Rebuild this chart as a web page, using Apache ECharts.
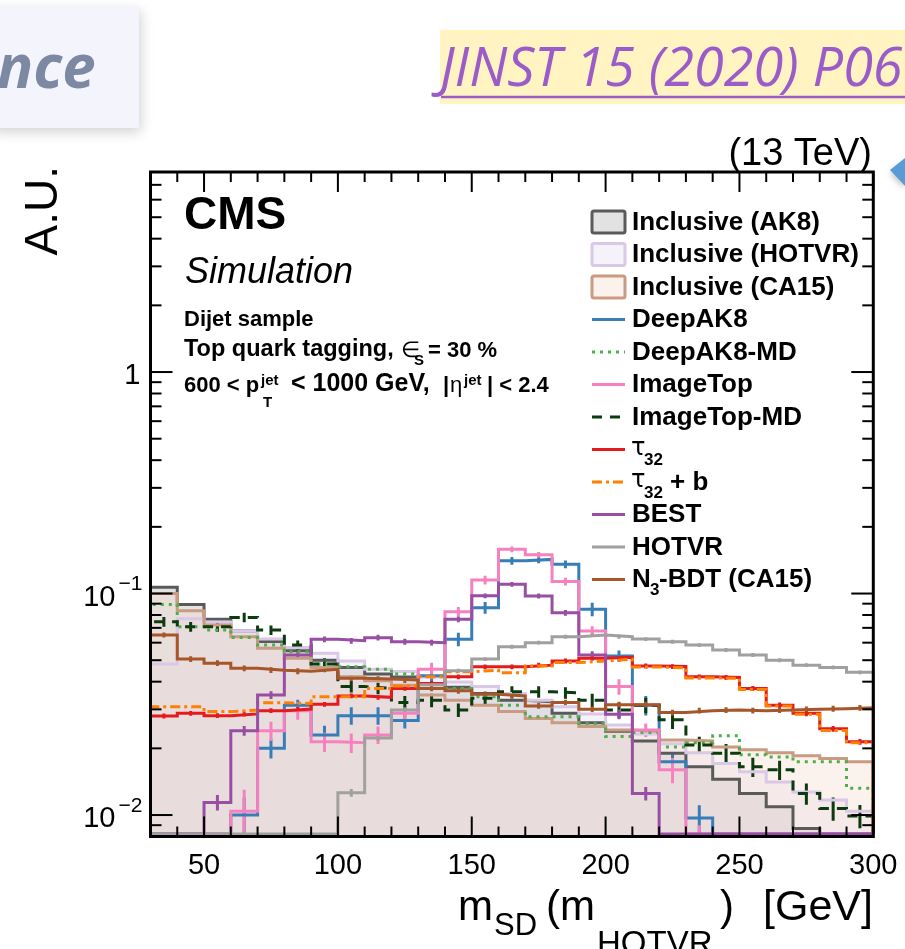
<!DOCTYPE html>
<html>
<head>
<meta charset="utf-8">
<title>Soft-drop mass of tagged dijet jets</title>
<script src="https://cdn.jsdelivr.net/npm/echarts@6/dist/echarts.min.js"></script>
<style>
  html, body { margin: 0; padding: 0; background: #ffffff; }
  #chart { width: 905px; height: 949px; }
</style>
</head>
<body>
<div id="chart"></div>
<script>
// ---------------------------------------------------------------------------
// Binning: 10 GeV bins from 30 to 300 GeV (lower edges)
// ---------------------------------------------------------------------------
const binLow = [30, 40, 50, 60, 70, 80, 90, 100, 110, 120, 130, 140, 150, 160,
                170, 180, 190, 200, 210, 220, 230, 240, 250, 260, 270, 280, 290];
const BIN_WIDTH = 10;

// Normalised yields per bin (A.U.)
const inclusiveAK8   = [0.1067, 0.0893, 0.0765, 0.0679, 0.0608, 0.0552, 0.0500, 0.0464, 0.0433, 0.0420,
                        0.0390, 0.0377, 0.0354, 0.0330, 0.0325, 0.0288, 0.0261, 0.0239, 0.0216, 0.0190,
                        0.0165, 0.0145, 0.0125, 0.0109, 0.0087, 0, 0];
const inclusiveHOTVR = [0.0481, 0.0770, 0.0744, 0.0679, 0.0623, 0.0571, 0.0537, 0.0496, 0.0455, 0.0445,
                        0.0420, 0.0399, 0.0380, 0.0354, 0.0330, 0.0308, 0.0286, 0.0255, 0.0232, 0.0210,
                        0.0191, 0.0171, 0.0157, 0.0141, 0.0127, 0.0117, 0.0104];
const inclusiveCA15  = [0.1000, 0.0836, 0.0721, 0.0638, 0.0566, 0.0510, 0.0464, 0.0421, 0.0404, 0.0385,
                        0.0348, 0.0330, 0.0313, 0.0293, 0.0273, 0.0261, 0.0251, 0.0242, 0.0238, 0.0218,
                        0.0216, 0.0203, 0.0197, 0.0191, 0.0185, 0.0180, 0.0174];
const deepAK8        = [0, 0, 0, 0.0100, 0.0200, 0.0313, 0.0230, 0.0281, 0.0281, 0.0267,
                        0.0425, 0.0621, 0.0863, 0.1406, 0.1426, 0.1355, 0.0849, 0.0522, 0.0313, 0.0174,
                        0.0097, 0, 0, 0, 0, 0, 0];
const deepAK8MD      = [0.0893, 0.0708, 0.0684, 0.0633, 0.0585, 0.0546, 0.0481, 0.0467, 0.0455, 0.0433,
                        0.0373, 0.0373, 0.0342, 0.0313, 0.0278, 0.0278, 0.0259, 0.0226, 0.0236, 0.0203,
                        0.0212, 0.0228, 0.0187, 0.0183, 0.0174, 0.0174, 0.0132];
const imageTop       = [0, 0, 0, 0.0104, 0.0240, 0.0296, 0.0214, 0.0212, 0.0230, 0.0288,
                        0.0455, 0.0828, 0.1151, 0.1583, 0.1496, 0.1133, 0.0677, 0.0380, 0.0242, 0.0160,
                        0.0075, 0, 0, 0, 0, 0, 0];
const imageTopMD     = [0.0746, 0.0708, 0.0708, 0.0780, 0.0684, 0.0585, 0.0481, 0.0380, 0.0373, 0.0322,
                        0.0330, 0.0298, 0.0337, 0.0360, 0.0360, 0.0356, 0.0330, 0.0298, 0.0313, 0.0269,
                        0.0207, 0.0190, 0.0165, 0.0160, 0.0125, 0.0107, 0.0099];
const tau32          = [0.0280, 0.0288, 0.0281, 0.0286, 0.0296, 0.0301, 0.0316, 0.0345, 0.0340, 0.0373,
                        0.0393, 0.0421, 0.0467, 0.0467, 0.0475, 0.0496, 0.0510, 0.0515, 0.0471, 0.0468,
                        0.0421, 0.0418, 0.0373, 0.0313, 0.0288, 0.0245, 0.0214];
const tau32b         = [0.0308, 0.0308, 0.0293, 0.0298, 0.0321, 0.0319, 0.0342, 0.0342, 0.0373, 0.0382,
                        0.0421, 0.0443, 0.0451, 0.0439, 0.0471, 0.0488, 0.0496, 0.0505, 0.0466, 0.0462,
                        0.0416, 0.0414, 0.0369, 0.0311, 0.0285, 0.0241, 0.0212];
const best           = [0, 0, 0.0114, 0.0240, 0.0348, 0.0528, 0.0621, 0.0612, 0.0632, 0.0606,
                        0.0600, 0.0765, 0.0977, 0.1100, 0.0975, 0.0819, 0.0528, 0.0285, 0.0125, 0,
                        0, 0, 0, 0, 0, 0, 0];
const hotvr          = [0, 0, 0, 0, 0, 0, 0, 0.0126, 0.0223, 0.0298,
                        0.0387, 0.0448, 0.0506, 0.0575, 0.0600, 0.0638, 0.0650, 0.0638, 0.0623, 0.0606,
                        0.0585, 0.0556, 0.0528, 0.0500, 0.0475, 0.0464, 0.0441];
const n3bdt          = [0.0650, 0.0506, 0.0485, 0.0460, 0.0451, 0.0446, 0.0455, 0.0414, 0.0411, 0.0407,
                        0.0373, 0.0364, 0.0351, 0.0345, 0.0311, 0.0322, 0.0300, 0.0315, 0.0315, 0.0290,
                        0.0296, 0.0298, 0.0296, 0.0298, 0.0300, 0.0302, 0.0305];

// Relative statistical uncertainties per bin
const errDeepAK8    = [0, 0, 0, 0.20, 0.10, 0.06, 0.10, 0.09, 0.09, 0.08, 0.07, 0.07, 0.06, 0.04, 0.04,
                       0.04, 0.07, 0.06, 0.10, 0.09, 0.14, 0, 0, 0, 0, 0, 0];
const errImageTop   = [0, 0, 0, 0.25, 0.10, 0.09, 0.10, 0.10, 0.09, 0.07, 0.07, 0.05, 0.045, 0.03, 0.03,
                       0.04, 0.05, 0.08, 0.07, 0.13, 0.20, 0, 0, 0, 0, 0, 0];
const errImageTopMD = [0.05, 0.05, 0.05, 0.05, 0.05, 0.05, 0.06, 0.06, 0.06, 0.07, 0.07, 0.07, 0.06, 0.06,
                       0.06, 0.06, 0.07, 0.08, 0.08, 0.09, 0.09, 0.10, 0.10, 0.10, 0.11, 0.12, 0.12];
const errTau32      = [0.025, 0.025, 0.025, 0.025, 0.025, 0.025, 0.025, 0.025, 0.025, 0.025, 0.025, 0.025,
                       0.025, 0.025, 0.025, 0.025, 0.025, 0.025, 0.025, 0.025, 0.025, 0.025, 0.025, 0.03,
                       0.03, 0.03, 0.03];
const errBEST       = [0, 0, 0.08, 0.05, 0.04, 0.03, 0.03, 0.03, 0.03, 0.03, 0.03, 0.03, 0.025, 0.025,
                       0.025, 0.03, 0.04, 0.05, 0.07, 0, 0, 0, 0, 0, 0, 0, 0];
const errHOTVR      = [0, 0, 0, 0, 0, 0, 0, 0.04, 0.03, 0.03, 0.025, 0.02, 0.02, 0.02, 0.02, 0.02, 0.02,
                       0.02, 0.02, 0.02, 0.02, 0.02, 0.02, 0.02, 0.02, 0.02, 0.02];
const errN3BDT      = [0.025, 0.03, 0.03, 0.03, 0.03, 0.03, 0.03, 0.03, 0.03, 0.03, 0.03, 0.03, 0.03,
                       0.03, 0.03, 0.03, 0.03, 0.03, 0.03, 0.03, 0.03, 0.03, 0.03, 0.03, 0.03, 0.03, 0.03];

// Axis ticks and labels
const xMajorTicks = [50, 100, 150, 200, 250, 300];
const xMinorTicks = [40, 60, 70, 80, 90, 110, 120, 130, 140, 160, 170, 180, 190,
                     210, 220, 230, 240, 260, 270, 280, 290];
const xTickLabels = ['50', '100', '150', '200', '250', '300'];
const yMajorTicks = [0.01, 0.1, 1];
const yMinorTicks = [0.009, 0.02, 0.03, 0.04, 0.05, 0.06, 0.07, 0.08, 0.09,
                     0.2, 0.3, 0.4, 0.5, 0.6, 0.7, 0.8, 0.9, 2, 3, 4, 5, 6, 7];
const yTickBases = ['10', '10', '1'];
const yTickExponents = ['\u22122', '\u22121', ''];

// Axis ranges
const X_MIN = 30, X_MAX = 300;
const Y_MIN = 0.008, Y_MAX = 8;
// Empty bins are drawn resting on the lower frame edge
const EMPTY_LEVEL = 0.0082;

const SANS = '"Liberation Sans", Arial, Helvetica, sans-serif';

// ---------------------------------------------------------------------------
// Histogram descriptions (style only)
// ---------------------------------------------------------------------------
const hists = [
  { name: 'Inclusive (AK8)',   values: inclusiveAK8,   color: '#5a5a5a', fill: 'rgba(185,185,185,0.42)' },
  { name: 'Inclusive (HOTVR)', values: inclusiveHOTVR, color: '#d9c8e6', fill: 'rgba(226,214,238,0.32)' },
  { name: 'Inclusive (CA15)',  values: inclusiveCA15,  color: '#c99b80', fill: 'rgba(242,216,202,0.34)' },
  { name: 'DeepAK8',      values: deepAK8,    err: errDeepAK8,    color: '#377eb8' },
  { name: 'DeepAK8-MD',   values: deepAK8MD,                      color: '#4daf4a', dash: [3, 5] },
  { name: 'ImageTop',     values: imageTop,   err: errImageTop,   color: '#f781bf' },
  { name: 'ImageTop-MD',  values: imageTopMD, err: errImageTopMD, color: '#0b3b0e', dash: [10, 8] },
  { name: 'τ32',          values: tau32,      err: errTau32,      color: '#e41a1c' },
  { name: 'τ32 + b',      values: tau32b,                         color: '#ff7f00', dash: [10, 4, 3, 4] },
  { name: 'BEST',         values: best,       err: errBEST,       color: '#984ea3' },
  { name: 'HOTVR',        values: hotvr,      err: errHOTVR,      color: '#a0a0a0' },
  { name: 'N3-BDT (CA15)', values: n3bdt,     err: errN3BDT,      color: '#a65628' }
];

// Outline of a histogram as a sequence of [x, y] points along bin edges
function stepPath(values) {
  const pts = [[binLow[0], EMPTY_LEVEL]];
  values.forEach((v, i) => {
    const y = v >= Y_MIN ? v : EMPTY_LEVEL;
    pts.push([binLow[i], y], [binLow[i] + BIN_WIDTH, y]);
  });
  pts.push([binLow[binLow.length - 1] + BIN_WIDTH, EMPTY_LEVEL]);
  return pts;
}

// Vertical error bars at bin centres: [centre, low, high]
function errorBars(values, rel) {
  const out = [];
  values.forEach((v, i) => {
    if (!(v > 0) || !(rel[i] > 0)) return;
    out.push([binLow[i] + BIN_WIDTH / 2, Math.max(v * (1 - rel[i]), Y_MIN), v * (1 + rel[i])]);
  });
  return out;
}

const series = [];
hists.forEach(h => {
  const s = {
    name: h.name,
    type: 'line',
    data: stepPath(h.values),
    symbol: 'none',
    showSymbol: false,
    silent: true,
    clip: true,
    lineStyle: { color: h.color, width: 3, type: h.dash || 'solid', cap: 'butt', join: 'miter' },
    z: 2
  };
  if (h.fill) {
    s.areaStyle = { color: h.fill, origin: 'start', opacity: 1 };
  }
  series.push(s);
  if (h.err) {
    series.push({
      name: h.name + ' uncertainty',
      type: 'custom',
      data: errorBars(h.values, h.err),
      encode: { x: 0, y: [1, 2] },
      clip: true,
      silent: true,
      z: 2,
      renderItem: (params, api) => {
        const a = api.coord([api.value(0), api.value(1)]);
        const b = api.coord([api.value(0), api.value(2)]);
        return {
          type: 'line',
          shape: { x1: a[0], y1: a[1], x2: b[0], y2: b[1] },
          style: { stroke: h.color, lineWidth: 3 }
        };
      }
    });
  }
});

// Frame with ticks on all four sides, plus tick labels
series.push({
  name: 'frame',
  type: 'custom',
  data: [[X_MIN, 1]],
  encode: { x: 0, y: 1 },
  clip: false,
  silent: true,
  z: 5,
  renderItem: (params, api) => {
    const tl = api.coord([X_MIN, Y_MAX]);
    const br = api.coord([X_MAX, Y_MIN]);
    const kids = [];
    const tick = (ax, ay, bx, by) => kids.push({
      type: 'line', shape: { x1: ax, y1: ay, x2: bx, y2: by },
      style: { stroke: '#000', lineWidth: 2 }
    });
    xMajorTicks.forEach(v => { const x = api.coord([v, Y_MIN])[0]; tick(x, br[1], x, br[1] - 20); tick(x, tl[1], x, tl[1] + 20); });
    xMinorTicks.forEach(v => { const x = api.coord([v, Y_MIN])[0]; tick(x, br[1], x, br[1] - 10); tick(x, tl[1], x, tl[1] + 10); });
    yMajorTicks.forEach(v => { const y = api.coord([X_MIN, v])[1]; tick(tl[0], y, tl[0] + 22, y); tick(br[0], y, br[0] - 22, y); });
    yMinorTicks.forEach(v => { const y = api.coord([X_MIN, v])[1]; tick(tl[0], y, tl[0] + 11, y); tick(br[0], y, br[0] - 11, y); });
    kids.push({
      type: 'rect',
      shape: { x: tl[0], y: tl[1], width: br[0] - tl[0], height: br[1] - tl[1] },
      style: { fill: 'none', stroke: '#000', lineWidth: 3 }
    });
    xMajorTicks.forEach((v, i) => {
      const x = api.coord([v, Y_MIN])[0];
      kids.push({ type: 'text', style: {
        text: xTickLabels[i], x: x, y: br[1] + 29, font: '29px ' + SANS, fill: '#000',
        align: 'center', verticalAlign: 'middle', textAlign: 'center', textVerticalAlign: 'middle' } });
    });
    yMajorTicks.forEach((v, i) => {
      const y = api.coord([X_MIN, v])[1];
      const hasExp = yTickExponents[i] !== '';
      kids.push({ type: 'text', style: {
        text: yTickBases[i], x: hasExp ? tl[0] - 35 : tl[0] - 10, y: y + 4,
        font: '29px ' + SANS, fill: '#000',
        align: 'right', verticalAlign: 'middle', textAlign: 'right', textVerticalAlign: 'middle' } });
      if (hasExp) {
        kids.push({ type: 'text', style: {
          text: yTickExponents[i], x: tl[0] - 32, y: y - 9,
          font: '21px ' + SANS, fill: '#000',
          align: 'left', verticalAlign: 'middle', textAlign: 'left', textVerticalAlign: 'middle' } });
      }
    });
    return { type: 'group', children: kids };
  }
});

// ---------------------------------------------------------------------------
// Text helpers for the graphic layer
// ---------------------------------------------------------------------------
function fontOf(size, opts) {
  return (opts.italic ? 'italic ' : '') + (opts.bold ? 'bold ' : '') + size + 'px ' + (opts.family || SANS);
}
// Horizontal text placed by its baseline
function text(str, x, baseline, size, opts) {
  opts = opts || {};
  const align = opts.align || 'left';
  return {
    type: 'text', x: x, y: baseline - 0.34 * size, z: 10,
    style: {
      text: str, font: fontOf(size, opts), fill: opts.color || '#000',
      align: align, verticalAlign: 'middle', textAlign: align, textVerticalAlign: 'middle'
    }
  };
}

const graphics = [];

// Decorations around the figure
graphics.push({
  type: 'rect', shape: { x: -10, y: 7, width: 149, height: 121 }, z: 1,
  style: { fill: '#f4f4fd', shadowBlur: 12, shadowColor: 'rgba(0,0,0,0.18)', shadowOffsetX: 2, shadowOffsetY: 4 }
});
graphics.push(text('nce', -3, 91, 60, { italic: true, bold: true, family: '"Open Sans", sans-serif', color: '#7d89a3' }));
graphics.push({ type: 'rect', shape: { x: 440, y: 30, width: 470, height: 74 }, z: 1, style: { fill: '#fff4c2' } });
graphics.push(text('JINST 15 (2020) P06005', 440, 89, 54, { italic: true, family: '"Open Sans", sans-serif', color: '#9b5cc9' }));
graphics.push({ type: 'line', shape: { x1: 441, y1: 97, x2: 905, y2: 97 }, z: 10, style: { stroke: '#9b5cc9', lineWidth: 2.5 } });
graphics.push({
  type: 'polygon', shape: { points: [[890, 170], [905, 158], [905, 186]] }, z: 10,
  style: { fill: '#5b9bd5', shadowBlur: 6, shadowColor: 'rgba(0,0,0,0.25)', shadowOffsetY: 3 }
});

// Energy label, experiment labels and selection text
graphics.push(text('(13 TeV)', 872, 167, 38, { align: 'right' }));
graphics.push(text('CMS', 184, 232, 46, { bold: true }));
graphics.push(text('Simulation', 185, 285, 36, { italic: true }));
graphics.push(text('Dijet sample', 184, 327, 22, { bold: true }));
graphics.push(text('Top quark tagging,', 184, 358, 23.5, { bold: true }));
graphics.push(text('\u2208', 401, 358, 22, {}));
graphics.push(text('S', 414, 366, 15, { bold: true }));
graphics.push(text('= 30 %', 428, 358, 22, { bold: true }));
graphics.push(text('600 < p', 184, 393, 22, { bold: true }));
graphics.push(text('jet', 261, 386, 15, { bold: true }));
graphics.push(text('T', 263, 408, 15, { bold: true }));
graphics.push(text('< 1000 GeV,', 291, 393, 25, { bold: true }));
graphics.push(text('|', 443, 393, 22, { bold: true }));
graphics.push(text('\u03b7', 450, 393, 22, {}));
graphics.push(text('jet', 464, 386, 15, { bold: true }));
graphics.push(text('| < 2.4', 487, 393, 22, { bold: true }));

// Axis titles
graphics.push({
  type: 'text', x: 44, y: 166, rotation: Math.PI / 2, z: 10,
  style: { text: 'A.U.', font: '46px ' + SANS, fill: '#000',
           align: 'right', verticalAlign: 'middle', textAlign: 'right', textVerticalAlign: 'middle' }
});
graphics.push(text('m', 458, 923, 42));
graphics.push(text('SD', 494, 937, 31));
graphics.push(text('(m', 546, 923, 42));
graphics.push(text('HOTVR', 597, 956, 33));
graphics.push(text(')', 720, 923, 42));
graphics.push(text('[GeV]', 873, 923, 43, { align: 'right' }));

// Legend
const legendLabels = ['Inclusive (AK8)', 'Inclusive (HOTVR)', 'Inclusive (CA15)', 'DeepAK8', 'DeepAK8-MD',
                      'ImageTop', 'ImageTop-MD', 'τ32', 'τ32 + b', 'BEST', 'HOTVR', 'N3-BDT (CA15)'];
const LEG_X = 592, LEG_W = 33, LEG_TEXT_X = 632, LEG_TOP = 222, LEG_STEP = 32.5;
hists.forEach((h, i) => {
  const cy = LEG_TOP + i * LEG_STEP;
  if (h.fill) {
    graphics.push({ type: 'rect', shape: { x: LEG_X, y: cy - 11, width: LEG_W, height: 22, r: 2 }, z: 10,
      style: { fill: h.fill, stroke: h.color, lineWidth: 3 } });
  } else {
    graphics.push({ type: 'line', shape: { x1: LEG_X, y1: cy, x2: LEG_X + LEG_W, y2: cy }, z: 10,
      style: { stroke: h.color, lineWidth: 3, lineDash: h.dash || null } });
  }
  const lbl = legendLabels[i];
  if (lbl.indexOf('τ32') === 0) {
    graphics.push(text('τ', LEG_TEXT_X - 1, cy + 7, 24, { family: '"DejaVu Sans", sans-serif' }));
    graphics.push(text('32', LEG_TEXT_X + 12, cy + 17, 17, { bold: true }));
    const rest = lbl.slice(3).trim();
    if (rest) graphics.push(text(rest, LEG_TEXT_X + 38, cy + 9.5, 26, { bold: true }));
  } else if (lbl.indexOf('N3') === 0) {
    graphics.push(text('N', LEG_TEXT_X, cy + 9.5, 26, { bold: true }));
    graphics.push(text('3', LEG_TEXT_X + 18, cy + 17, 17, { bold: true }));
    graphics.push(text(lbl.slice(2), LEG_TEXT_X + 27, cy + 9.5, 26, { bold: true }));
  } else {
    graphics.push(text(lbl, LEG_TEXT_X, cy + 9.5, 26, { bold: true }));
  }
});

// ---------------------------------------------------------------------------
const chart = echarts.init(document.getElementById('chart'), null, { renderer: 'canvas' });
chart.setOption({
  animation: false,
  backgroundColor: '#ffffff',
  grid: { left: 150.5, right: 31.7, top: 172, bottom: 112.5, show: false },
  xAxis: {
    type: 'value', min: X_MIN, max: X_MAX,
    axisLine: { show: false }, axisTick: { show: false }, axisLabel: { show: false }, splitLine: { show: false }
  },
  yAxis: {
    type: 'log', logBase: 10, min: Y_MIN, max: Y_MAX,
    axisLine: { show: false }, axisTick: { show: false }, axisLabel: { show: false }, splitLine: { show: false }
  },
  series: series,
  graphic: graphics
});
</script>
</body>
</html>
